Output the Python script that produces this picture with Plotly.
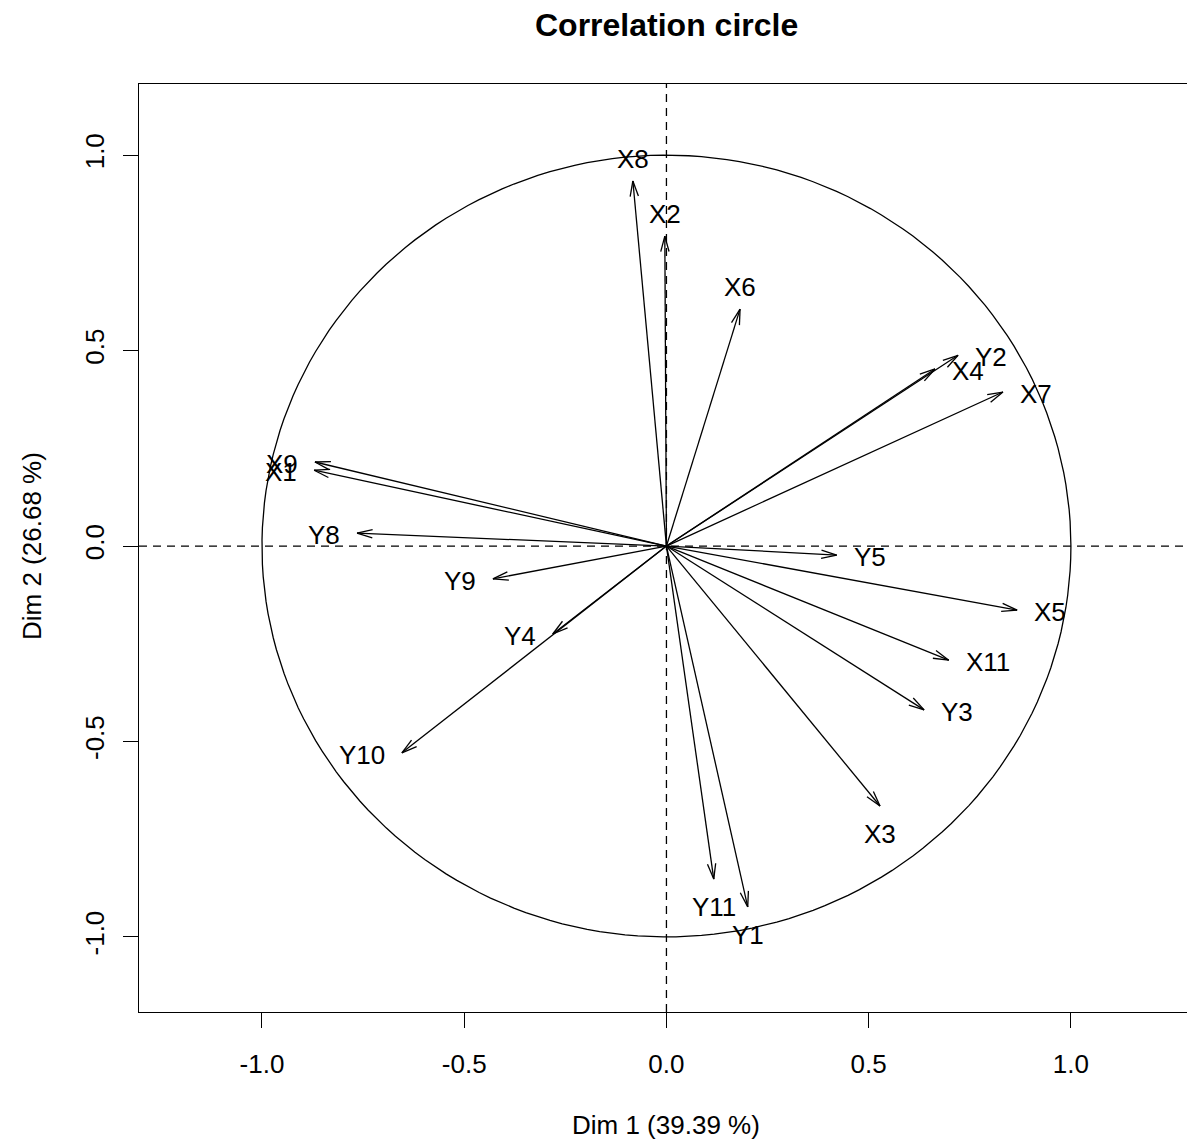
import numpy as np
import plotly.graph_objects as go

# ---- data (coordinates of variables on Dim 1 / Dim 2) ----
variables = ["X8", "X2", "X6", "Y2", "X4", "X7", "X9", "X1", "Y8", "Y5",
             "X5", "X11", "Y3", "X3", "Y11", "Y1", "Y9", "Y4", "Y10"]
dim1 = [-0.083, -0.004, 0.182, 0.721, 0.664, 0.832, -0.869, -0.871, -0.765, 0.421,
        0.867, 0.698, 0.637, 0.528, 0.117, 0.201, -0.429, -0.281, -0.654]
dim2 = [0.934, 0.793, 0.606, 0.488, 0.453, 0.394, 0.215, 0.194, 0.033, -0.023,
        -0.164, -0.292, -0.419, -0.665, -0.852, -0.923, -0.084, -0.225, -0.529]
tick_vals = [-1.0, -0.5, 0.0, 0.5, 1.0]
tick_text = ["-1.0", "-0.5", "0.0", "0.5", "1.0"]
title = "Correlation circle"
xlab = "Dim 1 (39.39 %)"
ylab = "Dim 2 (26.68 %)"

# ---- layout geometry ----
W, H = 1187, 1142
ml, mr, mt, mb = 139, 0, 84, 130
xr = [-1.304, 1.287]
yr = [-1.192, 1.182]
sx = (W - ml - mr) / (xr[1] - xr[0])
sy = (H - mt - mb) / (yr[1] - yr[0])

FONT = "Liberation Sans, Arial, Helvetica, sans-serif"
FS = 26

fig = go.Figure()

# circle
t = np.linspace(0, 2 * np.pi, 200)
fig.add_trace(go.Scatter(x=np.cos(t), y=np.sin(t), mode="lines",
                         line=dict(color="black", width=1.3),
                         hoverinfo="skip", showlegend=False))

# arrows
ax, ay = [], []
L = 16.0
ang = np.deg2rad(15)
for x, y in zip(dim1, dim2):
    ax += [0, x, None]
    ay += [0, y, None]
    dx, dy = x * sx, y * sy
    n = np.hypot(dx, dy)
    ux, uy = dx / n, dy / n
    for s in (1, -1):
        c, si = np.cos(s * ang), np.sin(s * ang)
        rx = ux * c - uy * si
        ry = ux * si + uy * c
        hx = dx - L * rx
        hy = dy - L * ry
        ax += [hx / sx, x, None]
        ay += [hy / sy, y, None]
fig.add_trace(go.Scatter(x=ax, y=ay, mode="lines",
                         line=dict(color="black", width=1.3),
                         hoverinfo="skip", showlegend=False))

# labels
for name, x, y in zip(variables, dim1, dim2):
    if abs(y) > abs(x):
        if y > 0:
            kw = dict(xanchor="center", yanchor="middle", xshift=0, yshift=22)
        else:
            kw = dict(xanchor="center", yanchor="middle", xshift=0, yshift=-28)
    else:
        if x > 0:
            kw = dict(xanchor="left", yanchor="middle", xshift=15, yshift=-2)
        else:
            kw = dict(xanchor="right", yanchor="middle", xshift=-15, yshift=-2)
    fig.add_annotation(x=x, y=y, text=name, showarrow=False,
                       font=dict(family=FONT, size=FS, color="black"), **kw)

# dashed axes lines
fig.add_shape(type="line", xref="paper", yref="y", x0=0, x1=1, y0=0, y1=0,
              line=dict(color="black", width=1.3, dash="8px,6px"))
fig.add_shape(type="line", xref="x", yref="paper", x0=0, x1=0, y0=0, y1=1,
              line=dict(color="black", width=1.3, dash="8px,6px"))

pw = W - ml - mr
ph = H - mt - mb
def px2paper_x(p):
    return (p - ml) / pw
def px2paper_y(p):
    return (H - mb - p) / ph

fig.add_annotation(xref="paper", yref="paper", x=px2paper_x(666), y=px2paper_y(25),
                   text="<b>" + title + "</b>", showarrow=False,
                   xanchor="center", yanchor="middle",
                   font=dict(family=FONT, size=32, color="black"))
fig.add_annotation(xref="paper", yref="paper", x=px2paper_x(666), y=px2paper_y(1125),
                   text=xlab, showarrow=False, xanchor="center", yanchor="middle",
                   font=dict(family=FONT, size=FS, color="black"))
fig.add_annotation(xref="paper", yref="paper", x=px2paper_x(32), y=px2paper_y(546),
                   text=ylab, showarrow=False, xanchor="center", yanchor="middle",
                   textangle=-90,
                   font=dict(family=FONT, size=FS, color="black"))

axis_common = dict(showgrid=False, zeroline=False, showline=True, linecolor="black",
                   linewidth=1.3, ticks="outside", ticklen=15, tickwidth=1.3,
                   tickcolor="black", tickvals=tick_vals, ticktext=tick_text,
                   tickfont=dict(family=FONT, size=FS, color="black"))

fig.update_layout(
    width=W, height=H,
    margin=dict(l=ml, r=mr, t=mt, b=mb, pad=0),
    paper_bgcolor="white", plot_bgcolor="white",
    xaxis=dict(range=xr, mirror=True, ticklabelstandoff=14, **axis_common),
    yaxis=dict(range=yr, mirror=False, tickangle=-90, ticklabelstandoff=8, **axis_common),
    showlegend=False,
)

fig.write_html("out.html", config={"displayModeBar": False},
               post_script="document.body.style.margin='0';document.body.style.overflow='hidden';")
